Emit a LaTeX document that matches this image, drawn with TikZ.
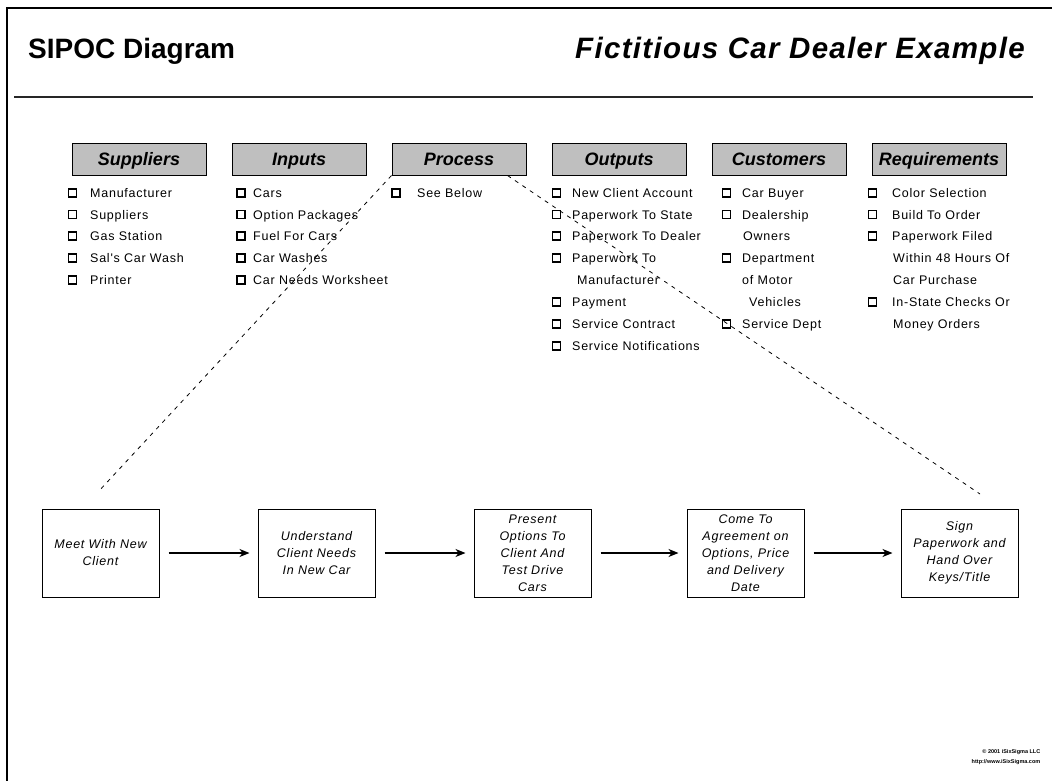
\documentclass[tikz,border=0pt]{standalone}
\usepackage{fontspec}
\setmainfont{Liberation Sans}
\newfontfamily\itemfont[LetterSpace=6]{Liberation Sans}
\newfontfamily\ttlfont[LetterSpace=4.5]{Liberation Sans}
\usetikzlibrary{arrows.meta}
\tikzset{
  hdr/.style={draw=black, line width=1pt, fill=black!25, minimum width=134pt, minimum height=32pt, inner sep=0pt, text height=14pt, text depth=2pt, font=\fontsize{18}{20}\selectfont\bfseries\itshape},
  cbox/.style={draw=black, line width=1.1pt, minimum size=8pt, inner sep=0pt},
  itm/.style={anchor=base west, inner sep=0pt, font=\itemfont\fontsize{12.5}{14}\selectfont},
  pbox/.style={draw=black, line width=1pt, minimum width=117pt, minimum height=88pt, align=center, inner sep=2pt, font=\itemfont\itshape\fontsize{12.5}{17}\selectfont},
  flow/.style={-{Stealth[length=10pt,width=8pt,inset=3pt]}, line width=1.3pt, shorten <=9pt, shorten >=8pt},
  guide/.style={dash pattern=on 4pt off 5pt, line width=0.8pt},
}
\newcommand\ckrow[5]{\node[cbox] (#1c) at (#2,#4) {}; \node[itm] (#1) at (#3,#4+4.5) {#5};}
\newcommand\controw[4]{\node[itm] (#1) at (#2,#3+4.5) {#4};}
\begin{document}
\begin{tikzpicture}[x=1pt,y=-1pt]
\useasboundingbox (0,0) rectangle (1052,780);
% frame
\draw[line width=2pt] (7,781) -- (7,8) -- (1053,8);
% titles
\node[anchor=base west, inner sep=0pt, font=\fontsize{28}{30}\selectfont\bfseries] (title) at (28,58) {SIPOC Diagram};
\node[anchor=base east, inner sep=0pt, font=\ttlfont\fontsize{29.5}{30}\selectfont\bfseries\itshape] (subtitle) at (1025,58) {Fictitious Car Dealer Example};
\draw[line width=1.5pt, black!85] (14,97) -- (1033,97);
% headers
\node[hdr] (hS) at (139,159) {Suppliers};
\node[hdr] (hI) at (299,159) {Inputs};
\node[hdr] (hP) at (459,159) {Process};
\node[hdr] (hO) at (619,159) {Outputs};
\node[hdr] (hC) at (779,159) {Customers};
\node[hdr] (hR) at (939,159) {Requirements};
% suppliers
\ckrow{s1}{72.5}{90}{193}{Manufacturer}
\ckrow{s2}{72.5}{90}{214.5}{Suppliers}
\ckrow{s3}{72.5}{90}{236}{Gas Station}
\ckrow{s4}{72.5}{90}{258}{Sal's Car Wash}
\ckrow{s5}{72.5}{90}{280}{Printer}
% inputs
\ckrow{i1}{241}{253}{193}{Cars}
\ckrow{i2}{241}{253}{214.5}{Option Packages}
\ckrow{i3}{241}{253}{236}{Fuel For Cars}
\ckrow{i4}{241}{253}{258}{Car Washes}
\ckrow{i5}{241}{253}{280}{Car Needs Worksheet}
% process
\ckrow{p1}{396}{417}{193}{See Below}
% outputs
\ckrow{o1}{556.5}{572}{193}{New Client Account}
\ckrow{o2}{556.5}{572}{214.5}{Paperwork To State}
\ckrow{o3}{556.5}{572}{236}{Paperwork To Dealer}
\ckrow{o4}{556.5}{572}{258}{Paperwork To}
\controw{o4b}{577}{280}{Manufacturer}
\ckrow{o5}{556.5}{572}{302}{Payment}
\ckrow{o6}{556.5}{572}{324}{Service Contract}
\ckrow{o7}{556.5}{572}{346}{Service Notifications}
% customers
\ckrow{c1}{726.5}{742}{193}{Car Buyer}
\ckrow{c2}{726.5}{742}{214.5}{Dealership}
\controw{c2b}{743}{236}{Owners}
\ckrow{c3}{726.5}{742}{258}{Department}
\controw{c3b}{742}{280}{of Motor}
\controw{c3c}{749}{302}{Vehicles}
\ckrow{c4}{726.5}{742}{324}{Service Dept}
% requirements
\ckrow{r1}{872.5}{892}{193}{Color Selection}
\ckrow{r2}{872.5}{892}{214.5}{Build To Order}
\ckrow{r3}{872.5}{892}{236}{Paperwork Filed}
\controw{r3b}{893}{258}{Within 48 Hours Of}
\controw{r3c}{893}{280}{Car Purchase}
\ckrow{r4}{872.5}{892}{302}{In-State Checks Or}
\controw{r4b}{893}{324}{Money Orders}
% process steps
\node[pbox] (b1) at (100.5,553) {Meet With New\\Client};
\node[pbox] (b2) at (316.5,553) {Understand\\Client Needs\\In New Car};
\node[pbox] (b3) at (532.5,553) {Present\\Options To\\Client And\\Test Drive\\Cars};
\node[pbox] (b4) at (745.5,553) {Come To\\Agreement on\\Options, Price\\and Delivery\\Date};
\node[pbox] (b5) at (959.5,553) {Sign\\Paperwork and\\Hand Over\\Keys/Title};
\draw[flow] (b1) -- (b2);
\draw[flow] (b2) -- (b3);
\draw[flow] (b3) -- (b4);
\draw[flow] (b4) -- (b5);
% zoom guides
\coordinate (gl) at (98,492);
\coordinate (gr) at (980,494);
\draw[guide] (hP.south west) -- (gl);
\draw[guide] ([xshift=-19pt]hP.south east) -- (gr);
% copyright
\node[align=right, inner sep=0pt, font=\fontsize{5.5}{9.5}\selectfont\bfseries] (copy) at (1006,757) {© 2001 iSixSigma LLC\\http://www.iSixSigma.com};
\end{tikzpicture}
\end{document}
